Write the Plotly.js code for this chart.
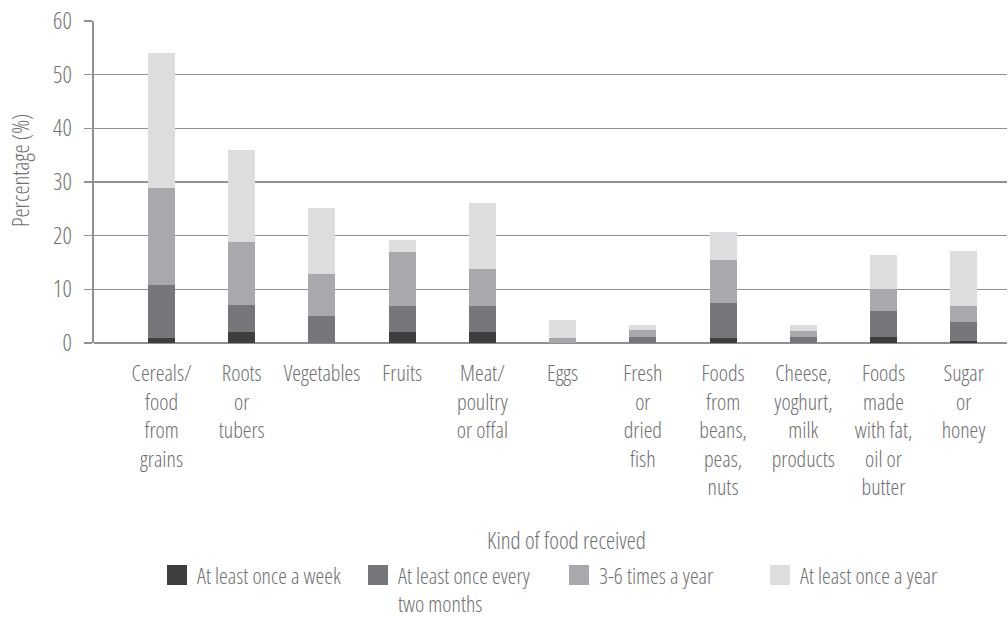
<!DOCTYPE html>
<html>
<head>
<meta charset="utf-8">
<script src="https://cdn.plot.ly/plotly-3.0.1.min.js"></script>
<style>
html,body{margin:0;padding:0;background:#fff;}
#chart{width:1008px;height:618px;}
#chart text{font-stretch:75% !important;}
</style>
</head>
<body>
<div id="chart"></div>
<script>
const categories = [
  "Cereals/<br>food<br>from<br>grains",
  "Roots<br>or<br>tubers",
  "Vegetables",
  "Fruits",
  "Meat/<br>poultry<br>or offal",
  "Eggs",
  "Fresh<br>or<br>dried<br>fish",
  "Foods<br>from<br>beans,<br>peas,<br>nuts",
  "Cheese,<br>yoghurt,<br>milk<br>products",
  "Foods<br>made<br>with fat,<br>oil or<br>butter",
  "Sugar<br>or<br>honey"
];
const seriesNames = [
  "At least once a week",
  "At least once every<br>two months",
  "3-6 times a year",
  "At least once a year"
];
const weekly     = [0.9, 2.0, 0.0, 2.0, 2.0, 0.0, 0.0, 0.9, 0.0, 1.1, 0.3];
const bimonthly  = [9.9, 5.1, 5.0, 4.9, 4.9, 0.0, 1.1, 6.5, 1.1, 4.9, 3.6];
const threeToSix = [18.0, 11.7, 7.8, 10.0, 6.9, 0.9, 1.3, 8.0, 1.1, 4.1, 3.0];
const yearly     = [25.2, 17.1, 12.3, 2.3, 12.3, 3.3, 0.9, 5.2, 1.1, 6.3, 10.2];
const colors = ["#3e3e3f", "#76777a", "#a8a9ac", "#dcdddf"];
const yTicks = [0, 10, 20, 30, 40, 50, 60];

const seriesValues = [weekly, bimonthly, threeToSix, yearly];
const textColor = "#6f7073";
const fontFam = "'Open Sans', 'DejaVu Sans', sans-serif";
const fw = 300;

const traces = seriesValues.map((vals, i) => ({
  type: "bar",
  name: seriesNames[i],
  x: categories,
  y: vals,
  marker: {color: colors[i], line: {width: 0}},
  hoverinfo: "skip"
}));

const layout = {
  width: 1008,
  height: 618,
  margin: {l: 94, r: 1, t: 21, b: 275, autoexpand: false},
  paper_bgcolor: "#ffffff",
  plot_bgcolor: "#ffffff",
  barmode: "stack",
  bargap: 0.663,
  font: {family: fontFam, color: textColor, size: 20, weight: fw},
  showlegend: true,
  legend: {
    orientation: "h",
    x: 0.069,
    xanchor: "left",
    y: -0.656,
    yanchor: "top",
    valign: "top",
    entrywidth: 156,
    entrywidthmode: "pixels",
    traceorder: "normal",
    font: {family: fontFam, size: 22, color: textColor, weight: fw},
    bgcolor: "rgba(0,0,0,0)"
  },
  xaxis: {
    type: "category",
    range: [-0.842, 10.54],
    automargin: false,
    showgrid: false,
    showline: false,
    zeroline: false,
    ticks: "",
    tickangle: 0,
    tickfont: {family: fontFam, size: 22, color: textColor, weight: fw},
    ticklabelstandoff: 15,
    fixedrange: true
  },
  yaxis: {
    range: [0, 60],
    automargin: false,
    tickvals: yTicks,
    ticktext: yTicks.map(String),
    showgrid: true,
    gridcolor: "#909090",
    gridwidth: 1.6,
    showline: true,
    linecolor: "#909090",
    linewidth: 1.6,
    zeroline: true,
    zerolinecolor: "#909090",
    zerolinewidth: 1.6,
    ticks: "outside",
    ticklen: 8,
    tickwidth: 1.6,
    tickcolor: "#909090",
    tickfont: {family: fontFam, size: 23, color: textColor, weight: fw},
    ticklabelstandoff: 8,
    fixedrange: true
  },
  annotations: [
    {
      text: "Percentage (%)",
      xref: "paper", yref: "paper",
      x: -0.081, y: 0.537,
      xanchor: "center", yanchor: "middle",
      textangle: -90,
      showarrow: false,
      font: {family: fontFam, size: 23, color: textColor, weight: fw}
    },
    {
      text: "Kind of food received",
      xref: "paper", yref: "paper",
      x: 0.517, y: -0.612,
      xanchor: "center", yanchor: "middle",
      showarrow: false,
      font: {family: fontFam, size: 23, color: textColor, weight: fw}
    }
  ]
};

function enlargeKeys() {
  document.querySelectorAll("#chart .legendpoints path").forEach(p => {
    p.setAttribute("d", "M10,10H-10V-10H10Z");
  });
}

Plotly.newPlot("chart", traces, layout, {displayModeBar: false, staticPlot: true}).then(() => {
  enlargeKeys();
  setTimeout(enlargeKeys, 0);
  setTimeout(enlargeKeys, 100);
});
</script>
</body>
</html>
